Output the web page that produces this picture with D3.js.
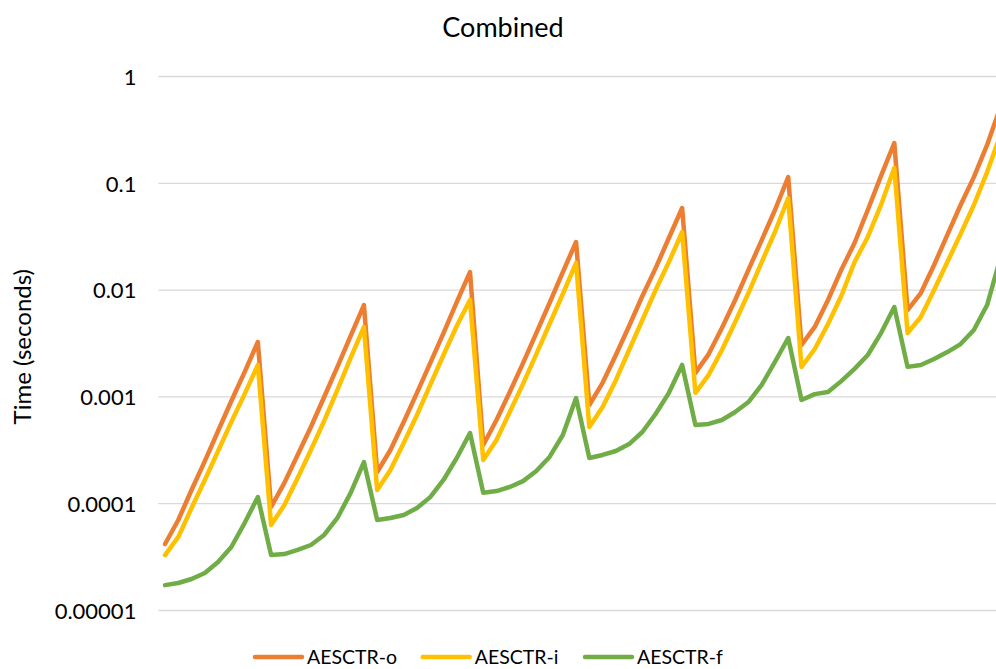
<!DOCTYPE html>
<html>
<head>
<meta charset="utf-8">
<script src="https://cdn.jsdelivr.net/npm/d3@7"></script>
<style>
  html, body { margin: 0; padding: 0; background: #fff; overflow: hidden; }
  svg { display: block; }
  text { font-family: Lato, "Open Sans", sans-serif; fill: #000; }
</style>
</head>
<body>
<svg id="chart" width="996" height="669"></svg>
<script>
// Timing runs (seconds) for three AES-CTR variants, 64 runs in 8 groups of 8
const aesctrO = [
  4.15e-5, 6.96e-5, 1.33e-4, 2.48e-4, 4.74e-4, 9.05e-4, 1.69e-3, 3.23e-3,
  9.21e-5, 1.55e-4, 2.83e-4, 5.17e-4, 9.87e-4, 1.89e-3, 3.68e-3, 7.17e-3,
  1.96e-4, 3.15e-4, 5.76e-4, 1.08e-3, 2.05e-3, 3.92e-3, 7.65e-3, 1.46e-2,
  3.51e-4, 6.01e-4, 1.10e-3, 2.05e-3, 3.92e-3, 7.49e-3, 1.46e-2, 2.79e-2,
  8.31e-4, 1.34e-3, 2.44e-3, 4.56e-3, 8.71e-3, 1.59e-2, 3.04e-2, 5.81e-2,
  1.66e-3, 2.49e-3, 4.37e-3, 7.99e-3, 1.53e-2, 2.91e-2, 5.56e-2, 0.113,
  3.03e-3, 4.47e-3, 7.99e-3, 1.53e-2, 2.73e-2, 5.56e-2, 0.116, 0.236,
  6.44e-3, 9.29e-3, 1.70e-2, 3.25e-2, 6.20e-2, 0.113, 0.226, 0.513
];
const aesctrI = [
  3.27e-5, 4.83e-5, 9.02e-5, 1.65e-4, 3.08e-4, 5.76e-4, 1.05e-3, 1.97e-3,
  6.25e-5, 9.62e-5, 1.72e-4, 3.15e-4, 5.89e-4, 1.15e-3, 2.29e-3, 4.47e-3,
  1.33e-4, 2.05e-4, 3.66e-4, 6.70e-4, 1.28e-3, 2.44e-3, 4.56e-3, 7.99e-3,
  2.54e-4, 3.91e-4, 7.14e-4, 1.31e-3, 2.49e-3, 4.76e-3, 9.09e-3, 1.78e-2,
  5.17e-4, 7.96e-4, 1.42e-3, 2.72e-3, 5.19e-3, 9.92e-3, 1.81e-2, 3.46e-2,
  1.08e-3, 1.59e-3, 2.72e-3, 4.97e-3, 9.29e-3, 1.81e-2, 3.46e-2, 7.21e-2,
  1.89e-3, 2.78e-3, 4.76e-3, 8.71e-3, 1.81e-2, 3.11e-2, 6.20e-2, 0.138,
  3.92e-3, 5.54e-3, 9.92e-3, 1.81e-2, 3.32e-2, 6.20e-2, 0.126, 0.280
];
const aesctrF = [
  1.71e-5, 1.79e-5, 1.95e-5, 2.22e-5, 2.81e-5, 3.89e-5, 6.52e-5, 1.14e-4,
  3.27e-5, 3.34e-5, 3.65e-5, 4.06e-5, 5.04e-5, 7.27e-5, 1.25e-4, 2.43e-4,
  6.96e-5, 7.27e-5, 7.75e-5, 9.02e-5, 1.14e-4, 1.65e-4, 2.65e-4, 4.54e-4,
  1.25e-4, 1.30e-4, 1.42e-4, 1.61e-4, 2.00e-4, 2.71e-4, 4.35e-4, 9.66e-4,
  2.65e-4, 2.83e-4, 3.08e-4, 3.58e-4, 4.64e-4, 6.84e-4, 1.08e-3, 1.97e-3,
  5.40e-4, 5.52e-4, 6.01e-4, 7.14e-4, 8.86e-4, 1.28e-3, 2.10e-3, 3.52e-3,
  9.25e-4, 1.05e-3, 1.10e-3, 1.39e-3, 1.81e-3, 2.44e-3, 3.92e-3, 6.87e-3,
  1.89e-3, 1.97e-3, 2.24e-3, 2.60e-3, 3.09e-3, 4.18e-3, 7.17e-3, 1.98e-2
];
const seriesNames = ["AESCTR-o", "AESCTR-i", "AESCTR-f"];
const seriesColors = ["#ED7D31", "#FFC000", "#70AD47"];
const yTickValues = [0.00001, 0.0001, 0.001, 0.01, 0.1, 1];
const yTickLabels = ["0.00001", "0.0001", "0.001", "0.01", "0.1", "1"];

const svg = d3.select("#chart");
const width = 996, height = 669;

// Plot area (the category axis runs past the right edge of the canvas)
const plot = { left: 158.4, right: 1007, top: 76, bottom: 610 };

const x = d3.scaleBand()
  .domain(d3.range(aesctrO.length))
  .range([plot.left, plot.right])
  .paddingInner(0).paddingOuter(0);
const xc = i => x(i) + x.bandwidth() / 2;

const y = d3.scaleLog()
  .domain([1e-5, 1])
  .range([plot.bottom, plot.top]);

// Horizontal gridlines and tick labels
const yAxis = d3.axisLeft(y)
  .tickValues(yTickValues)
  .tickFormat((d, i) => yTickLabels[i])
  .tickSize(-(plot.right - plot.left))
  .tickPadding(22);

const gAxis = svg.append("g")
  .attr("transform", `translate(${plot.left},0)`)
  .call(yAxis);
gAxis.select(".domain").remove();
gAxis.selectAll(".tick line")
  .attr("stroke", "#d9d9d9")
  .attr("stroke-width", 1.3);
gAxis.selectAll(".tick text")
  .attr("font-family", "Lato, 'Open Sans', sans-serif")
  .attr("font-size", 22)
  .attr("fill", "#000")
  .attr("dy", "0.38em");

// Series lines
const line = d3.line()
  .x((d, i) => xc(i))
  .y(d => y(d));

const allSeries = [aesctrO, aesctrI, aesctrF];
svg.append("g")
  .selectAll("path")
  .data(allSeries)
  .join("path")
  .attr("d", d => line(d))
  .attr("fill", "none")
  .attr("stroke", (d, i) => seriesColors[i])
  .attr("stroke-width", 4.5)
  .attr("stroke-linejoin", "round")
  .attr("stroke-linecap", "round");

// Title
svg.append("text")
  .attr("x", 503)
  .attr("y", 36.7)
  .attr("text-anchor", "middle")
  .attr("font-size", 27)
  .text("Combined");

// Y-axis title
svg.append("text")
  .attr("transform", "translate(31,346.7) rotate(-90)")
  .attr("text-anchor", "middle")
  .attr("font-size", 24)
  .text("Time (seconds)");

// Legend
const legendX = [255, 422.7, 585];
const legend = svg.append("g")
  .selectAll("g")
  .data(seriesNames)
  .join("g")
  .attr("transform", (d, i) => `translate(${legendX[i]},657)`);
legend.append("line")
  .attr("x1", 0).attr("x2", 47)
  .attr("y1", 0).attr("y2", 0)
  .attr("stroke", (d, i) => seriesColors[i])
  .attr("stroke-width", 4.5)
  .attr("stroke-linecap", "round");
legend.append("text")
  .attr("x", 52)
  .attr("y", 0)
  .attr("dy", "0.36em")
  .attr("font-size", 19.5)
  .text(d => d);
</script>
</body>
</html>
